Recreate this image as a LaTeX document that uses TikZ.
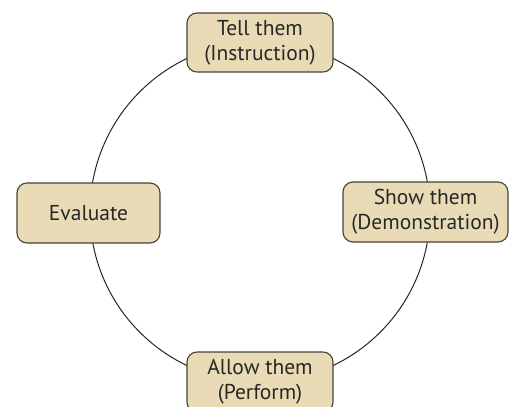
\documentclass[tikz,border=0pt]{standalone}
\usepackage{fontspec}
\setmainfont{PT Sans}
\definecolor{boxfill}{RGB}{232,219,181}
\definecolor{boxline}{RGB}{70,66,60}
\definecolor{txt}{RGB}{40,40,40}
\begin{document}
\begin{tikzpicture}[x=1pt,y=-1pt,
  stepbox/.style={draw=boxline, fill=boxfill, line width=1.1pt, rounded corners=10pt,
    inner sep=0pt, align=center, text=txt, font=\fontsize{21.5}{25}\selectfont},
  ring/.style={draw=black!85, line width=1pt}]
\useasboundingbox (0,0) rectangle (510,406);
\coordinate (c) at (260,212);
\draw[ring] (c) circle[radius=170];
\node[stepbox, minimum width=146pt, minimum height=59pt] (tell) at (260,42.5) {Tell them\\(Instruction)};
\node[stepbox, minimum width=165pt, minimum height=60pt] (show) at (425.5,212) {Show them\\(Demonstration)};
\node[stepbox, minimum width=143pt, minimum height=60pt] (eval) at (88.5,213) {Evaluate};
\node[stepbox, minimum width=146pt, minimum height=60pt] (allow) at (260,382) {Allow them\\(Perform)};
\end{tikzpicture}
\end{document}
